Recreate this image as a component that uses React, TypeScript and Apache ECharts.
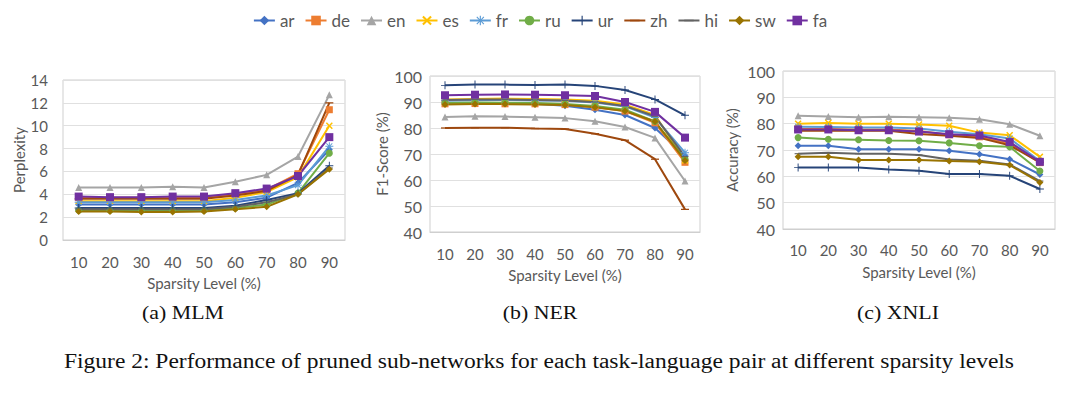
import React, { useEffect, useRef } from "react";
import * as echarts from "echarts";

const languages = ["ar", "de", "en", "es", "fr", "ru", "ur", "zh", "hi", "sw", "fa"];
const sparsityLevels = ["10", "20", "30", "40", "50", "60", "70", "80", "90"];

// MLM perplexity, one row per language (same order as `languages`)
const mlmValues = [
  [3.1, 3.1, 3.1, 3.1, 3.1, 3.3, 3.7, 5.0, 7.9],
  [3.7, 3.7, 3.7, 3.7, 3.7, 4.0, 4.4, 5.8, 11.4],
  [4.6, 4.6, 4.6, 4.65, 4.6, 5.1, 5.7, 7.3, 12.7],
  [3.4, 3.4, 3.4, 3.4, 3.4, 3.7, 4.2, 5.5, 10.0],
  [3.3, 3.3, 3.3, 3.3, 3.3, 3.5, 3.9, 4.8, 8.2],
  [2.6, 2.6, 2.6, 2.6, 2.6, 2.8, 3.1, 4.1, 7.6],
  [2.8, 2.8, 2.8, 2.8, 2.8, 3.0, 3.5, 4.1, 6.5],
  [3.6, 3.6, 3.6, 3.6, 3.6, 3.9, 4.3, 5.7, 12.0],
  [2.7, 2.7, 2.7, 2.7, 2.7, 2.9, 3.3, 4.0, 6.3],
  [2.5, 2.5, 2.45, 2.45, 2.5, 2.7, 2.9, 4.0, 6.2],
  [3.8, 3.75, 3.75, 3.8, 3.8, 4.1, 4.5, 5.6, 9.0],
];

// NER F1-score (%)
const nerValues = [
  [89.5, 89.6, 89.5, 89.3, 88.6, 87.0, 85.0, 80.0, 69.3],
  [89.3, 89.4, 89.3, 89.3, 89.0, 88.0, 86.5, 82.0, 66.8],
  [84.2, 84.5, 84.4, 84.1, 83.8, 82.6, 80.4, 76.2, 59.6],
  [91.0, 91.2, 91.3, 91.2, 91.0, 90.5, 89.0, 85.0, 67.5],
  [90.5, 90.7, 90.8, 90.6, 90.5, 89.8, 88.3, 84.0, 70.5],
  [89.6, 89.8, 89.7, 89.6, 89.2, 88.5, 87.0, 82.5, 68.0],
  [96.4, 96.7, 96.7, 96.5, 96.7, 96.2, 94.6, 91.0, 84.9],
  [80.0, 80.1, 80.1, 79.8, 79.6, 77.8, 75.3, 68.0, 48.7],
  [90.8, 91.0, 91.0, 90.8, 90.6, 90.0, 88.5, 84.5, 69.0],
  [89.0, 89.2, 89.2, 89.0, 88.8, 88.0, 86.5, 82.5, 67.5],
  [92.6, 92.8, 92.9, 92.8, 92.6, 92.3, 90.0, 86.2, 76.3],
];

// XNLI accuracy (%)
const xnliValues = [
  [71.6, 71.6, 70.3, 70.3, 70.3, 69.7, 68.4, 66.5, 60.7],
  [78.0, 78.0, 77.8, 77.8, 77.2, 75.8, 75.0, 72.5, 65.2],
  [83.0, 82.7, 82.4, 82.6, 82.4, 82.2, 81.7, 79.8, 75.4],
  [80.0, 80.3, 80.0, 80.0, 79.7, 79.2, 76.6, 75.6, 67.4],
  [78.8, 78.7, 78.5, 78.5, 78.2, 76.9, 76.0, 74.4, 65.8],
  [74.7, 74.1, 73.9, 73.6, 73.5, 72.7, 71.6, 71.2, 62.0],
  [63.4, 63.4, 63.4, 62.6, 62.1, 60.9, 60.9, 60.2, 55.2],
  [77.3, 77.3, 77.3, 77.3, 76.1, 75.4, 74.6, 71.8, 65.3],
  [68.6, 69.0, 68.6, 68.6, 68.1, 66.4, 65.9, 64.5, 58.2],
  [67.4, 67.4, 66.2, 66.2, 66.2, 65.8, 65.5, 64.3, 57.7],
  [77.8, 77.8, 77.5, 77.5, 77.0, 76.0, 75.5, 73.0, 65.5],
];

const subCaptions = ["(a) MLM", "(b) NER", "(c) XNLI"];
const figureCaption =
  "Figure 2: Performance of pruned sub-networks for each task-language pair at different sparsity levels";

const colors = [
  "#4472C4", "#ED7D31", "#A5A5A5", "#FFC000", "#5B9BD5", "#70AD47",
  "#264478", "#9E480E", "#636363", "#997300", "#7030A0",
];

const X_SYM = "path://M1.5,0L5,3.5L8.5,0L10,1.5L6.5,5L10,8.5L8.5,10L5,6.5L1.5,10L0,8.5L3.5,5L0,1.5Z";
const STAR_SYM =
  "path://M4.4,0H5.6V3.6L8.3,0.9L9.1,1.7L6.4,4.4H10V5.6H6.4L9.1,8.3L8.3,9.1L5.6,6.4V10H4.4V6.4L1.7,9.1L0.9,8.3L3.6,5.6H0V4.4H3.6L0.9,1.7L1.7,0.9L4.4,3.6Z";
const PLUS_SYM = "path://M4.4,0H5.6V4.4H10V5.6H5.6V10H4.4V5.6H0V4.4H4.4Z";
const DASH_SYM = "path://M0,0M10,10M0,4.2H10V5.8H0Z";

const symbols = [
  "diamond", "rect", "triangle", X_SYM, STAR_SYM, "circle",
  PLUS_SYM, DASH_SYM, DASH_SYM, "diamond", "rect",
];
const symbolSizes = [7, 7, 7, 7, 8, 7, 8, 8, 7, 7, 8];

const FONT = "Lato, 'Open Sans', sans-serif";
const GRAY = "#595959";

const grids = [
  { left: 63, top: 80, width: 282, height: 160 },
  { left: 430, top: 76, width: 270, height: 156 },
  { left: 783, top: 71, width: 272, height: 158 },
];
const yAxisSpecs = [
  { name: "Perplexity", min: 0, max: 14, interval: 2, nameGap: 33, labelMargin: 15 },
  { name: "F1-Score (%)", min: 40, max: 100, interval: 10, nameGap: 41, labelMargin: 8 },
  { name: "Accuracy (%)", min: 40, max: 100, interval: 10, nameGap: 44, labelMargin: 8 },
];
const xNameGaps = [35, 35, 35];
const xLabelMargins = [14, 14, 13];
const captionCenters = [183, 540, 898];

export default function App() {
  const ref = useRef<HTMLDivElement>(null);

  useEffect(() => {
    document.body.style.margin = "0";
    if (!ref.current) return;
    const chart = echarts.init(ref.current, undefined, { renderer: "svg" });
    const datasets = [mlmValues, nerValues, xnliValues];

    const series: any[] = [];
    datasets.forEach((values, gi) => {
      languages.forEach((lang, li) => {
        series.push({
          name: lang,
          type: "line",
          xAxisIndex: gi,
          yAxisIndex: gi,
          data: values[li],
          symbol: symbols[li],
          symbolSize: symbolSizes[li],
          lineStyle: { width: 2, color: colors[li] },
          itemStyle: { color: colors[li] },
          emphasis: { disabled: true },
        });
      });
    });

    const serif = "'Liberation Serif', 'Times New Roman', serif";
    const option: any = {
      animation: false,
      color: colors,
      legend: {
        data: languages,
        top: 7,
        left: "center",
        itemWidth: 21,
        itemHeight: 12,
        itemGap: 10,
        textStyle: { color: GRAY, fontSize: 17, fontFamily: FONT },
      },
      grid: grids.map((g) => ({
        ...g,
        show: true,
        borderColor: "#CFCFCF",
        borderWidth: 1,
        containLabel: false,
      })),
      xAxis: grids.map((_, gi) => ({
        type: "category",
        gridIndex: gi,
        data: sparsityLevels,
        boundaryGap: true,
        name: "Sparsity Level (%)",
        nameLocation: "middle",
        nameGap: xNameGaps[gi],
        nameTextStyle: { color: GRAY, fontSize: 15, fontFamily: FONT },
        axisLine: { show: true, lineStyle: { color: "#CFCFCF" } },
        axisTick: { show: false },
        axisLabel: { color: GRAY, fontSize: 15, fontFamily: FONT, margin: xLabelMargins[gi] },
        splitLine: { show: false },
      })),
      yAxis: yAxisSpecs.map((s, gi) => ({
        type: "value",
        gridIndex: gi,
        min: s.min,
        max: s.max,
        interval: s.interval,
        name: s.name,
        nameLocation: "middle",
        nameGap: s.nameGap,
        nameTextStyle: { color: GRAY, fontSize: 15, fontFamily: FONT },
        axisLine: { show: false },
        axisTick: { show: false },
        axisLabel: { color: GRAY, fontSize: gi === 0 ? 15 : 16, fontFamily: FONT, margin: s.labelMargin },
        splitLine: { show: true, lineStyle: { color: "#E0E0E0", width: 1 } },
      })),
      graphic: [
        ...subCaptions.map((t, i) => ({
          type: "text",
          x: captionCenters[i],
          y: 313,
          scaleX: 1.15,
          style: {
            text: t,
            fill: "#111",
            font: `19px ${serif}`,
            textAlign: "center",
            textVerticalAlign: "middle",
          },
        })),
        {
          type: "text",
          x: 539,
          y: 362,
          scaleX: 1.175,
          style: {
            text: figureCaption,
            fill: "#111",
            font: `20px ${serif}`,
            textAlign: "center",
            textVerticalAlign: "middle",
          },
        },
      ],
      series,
    };
    chart.setOption(option);
    return () => chart.dispose();
  }, []);

  return <div ref={ref} style={{ width: 1080, height: 393, background: "#fff" }} />;
}
